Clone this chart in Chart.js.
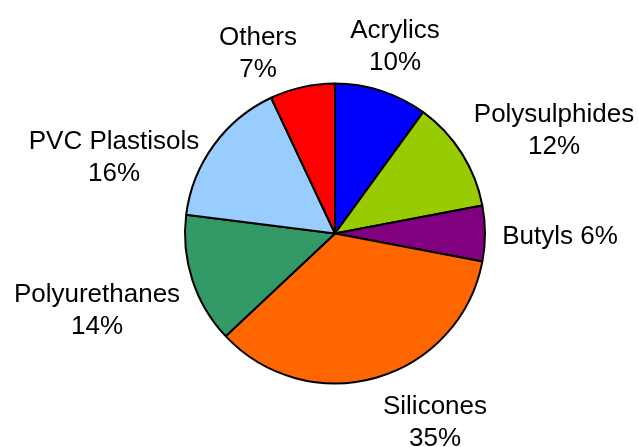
<!DOCTYPE html>
<html>
<head>
<meta charset="utf-8">
<script src="https://cdn.jsdelivr.net/npm/chart.js@4"></script>
<style>
  body { margin: 0; background: #fff; }
  canvas { display: block; }
</style>
</head>
<body>
<canvas id="pieChart" width="638" height="447"></canvas>
<script>
/* DATA */
const categories = ["Acrylics", "Polysulphides", "Butyls", "Silicones", "Polyurethanes", "PVC Plastisols", "Others"];
const shares = [10, 12, 6, 35, 14, 16, 7];
const sliceColors = ["#0000FF", "#99CC00", "#800080", "#FF6600", "#339966", "#99CCFF", "#FF0000"];

/* Label placement, relative to the pie centre (x of text centre, y of first baseline) */
const labelLayout = [
  { dx: 60,   dy: -196, oneLine: false },
  { dx: 219,  dy: -112, oneLine: false },
  { dx: 225,  dy: 10,   oneLine: true },
  { dx: 100,  dy: 180,  oneLine: false },
  { dx: -238, dy: 68,   oneLine: false },
  { dx: -221, dy: -85,  oneLine: false },
  { dx: -77,  dy: -189, oneLine: false }
];

/* Outside labels */
const sliceLabels = {
  id: "sliceLabels",
  afterDraw(chart) {
    const ctx = chart.ctx;
    const arcs = chart.getDatasetMeta(0).data;
    ctx.save();
    ctx.font = "26px 'Liberation Sans', Arial, sans-serif";
    ctx.fillStyle = "#000";
    ctx.textAlign = "center";
    ctx.textBaseline = "alphabetic";
    arcs.forEach((arc, i) => {
      const pos = labelLayout[i];
      const x = arc.x + pos.dx;
      const y = arc.y + pos.dy;
      const pct = shares[i] + "%";
      if (pos.oneLine) {
        ctx.fillText(categories[i] + " " + pct, x, y);
      } else {
        ctx.fillText(categories[i], x, y);
        ctx.fillText(pct, x, y + 32.5);
      }
    });
    ctx.restore();
  }
};

new Chart(document.getElementById("pieChart"), {
  type: "pie",
  data: {
    labels: categories,
    datasets: [{
      data: shares,
      backgroundColor: sliceColors,
      borderColor: "#000",
      borderWidth: 2,
      hoverBorderWidth: 2,
      hoverOffset: 0
    }]
  },
  options: {
    responsive: false,
    animation: false,
    radius: 150,
    layout: { padding: { top: 82.5, bottom: 62.5, left: 184, right: 152 } },
    plugins: {
      legend: { display: false },
      tooltip: { enabled: false }
    }
  },
  plugins: [sliceLabels]
});
</script>
</body>
</html>
